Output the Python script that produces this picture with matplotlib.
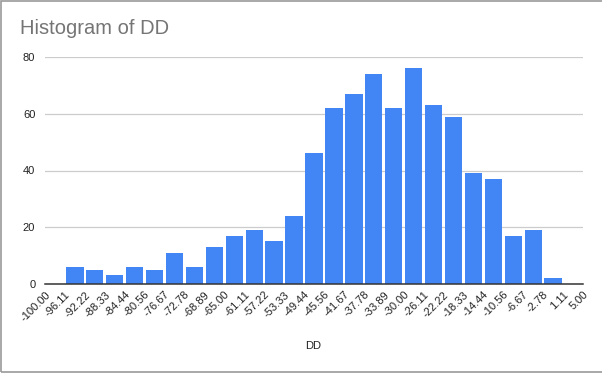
import numpy as np
import matplotlib
matplotlib.use("Agg")
import matplotlib.pyplot as plt
from matplotlib.patches import Rectangle

plt.rcParams['font.family'] = ['Liberation Sans', 'DejaVu Sans']

# bin edge labels as shown on the x axis
edge_labels = ["-100.00", "-96.11", "-92.22", "-88.33", "-84.44", "-80.56", "-76.67",
               "-72.78", "-68.89", "-65.00", "-61.11", "-57.22", "-53.33", "-49.44",
               "-45.56", "-41.67", "-37.78", "-33.89", "-30.00", "-26.11", "-22.22",
               "-18.33", "-14.44", "-10.56", "-6.67", "-2.78", "1.11", "5.00"]
# counts per bin
counts = [0, 6, 5, 3, 6, 5, 11, 6, 13, 17, 19, 15, 24, 46, 62, 67, 74, 62, 76,
          63, 59, 39, 37, 17, 19, 2, 0]
y_ticks = [0, 20, 40, 60, 80]

edges = np.array([float(s) for s in edge_labels])
centers = (edges[:-1] + edges[1:]) / 2
widths = np.diff(edges)

fig = plt.figure(figsize=(6.02, 3.74), dpi=100)
ax = fig.add_axes([45/602, 1-284/374, (583-45)/602, (284-57)/374])

ax.bar(centers, counts, width=widths*0.87, color='#4285F4', zorder=3)

ax.set_xlim(edges[0], edges[-1])
ax.set_ylim(0, 80)
ax.set_yticks(y_ticks)
ax.set_yticklabels([str(v) for v in y_ticks], fontsize=8, color='#222222')
ax.set_xticks(edges)
ax.set_xticklabels(edge_labels, rotation=45, ha='right', va='top',
                   rotation_mode='anchor', fontsize=8, color='#222222')
ax.tick_params(axis='both', length=0)
ax.tick_params(axis='x', pad=4)
ax.tick_params(axis='y', pad=7)
ax.grid(axis='y', color='#cccccc', linewidth=0.9, zorder=0)
for s in ['top', 'right', 'left']:
    ax.spines[s].set_visible(False)
ax.spines['bottom'].set_color('#333333')
ax.spines['bottom'].set_linewidth(1.1)
ax.spines['bottom'].set_zorder(4)

fig.text(313/602, 1-346/374, "DD", fontsize=8, ha='center', va='center', color='#222222')
fig.text(20/602, 1-28/374, "Histogram of DD", fontsize=14.5, ha='left', va='center', color='#757575')

fig.patches.append(Rectangle((0.002, 0.006), 1.2, 0.99, transform=fig.transFigure,
                             fill=False, edgecolor='#999999', linewidth=1.2))

fig.savefig("out.png", dpi=100)
